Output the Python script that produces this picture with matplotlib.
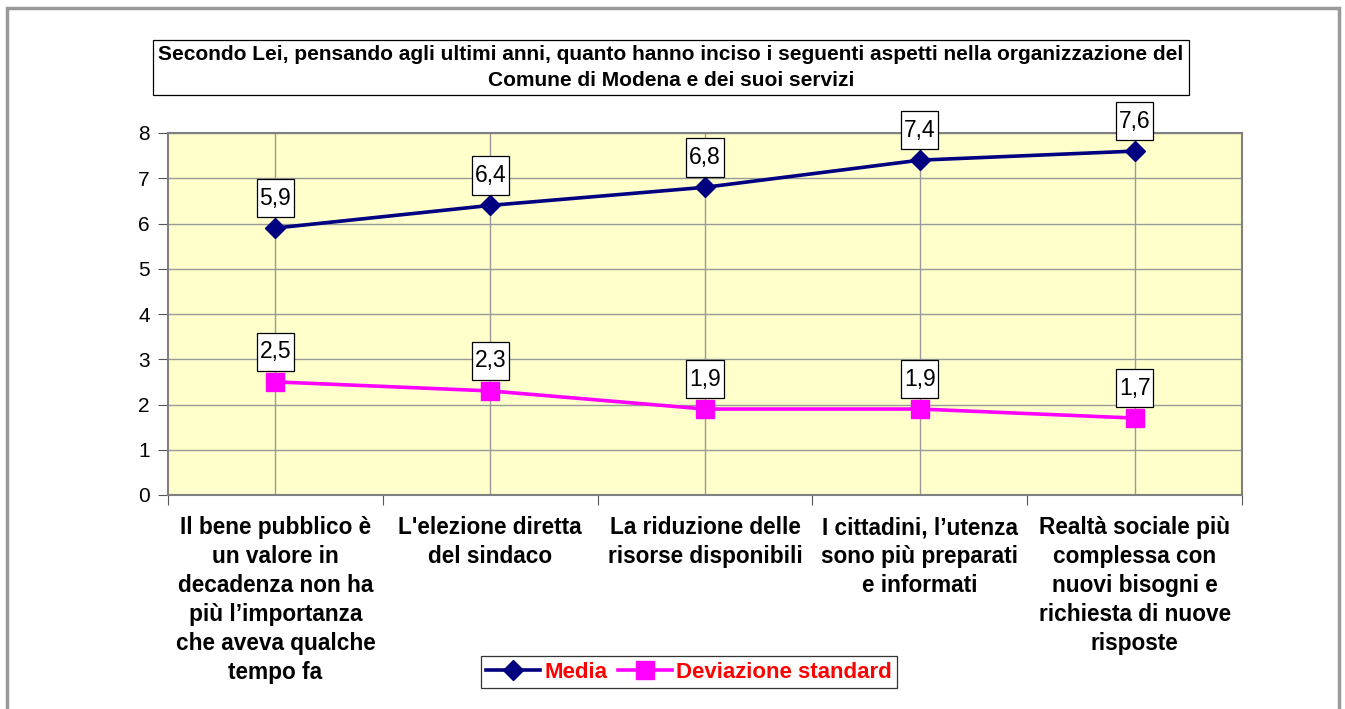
import matplotlib
matplotlib.use('Agg')
import matplotlib.pyplot as plt
from matplotlib.patches import Rectangle
from matplotlib.path import Path

plt.rcParams['font.family'] = ['Liberation Sans', 'DejaVu Sans']

# ── Dati ──
categorie = [
    "Il bene pubblico è\nun valore in\ndecadenza non ha\npiù l’importanza\nche aveva qualche\ntempo fa",
    "L'elezione diretta\ndel sindaco",
    "La riduzione delle\nrisorse disponibili",
    "I cittadini, l’utenza\nsono più preparati\ne informati",
    "Realtà sociale più\ncomplessa con\nnuovi bisogni e\nrichiesta di nuove\nrisposte",
]
media = [5.9, 6.4, 6.8, 7.4, 7.6]
dev_std = [2.5, 2.3, 1.9, 1.9, 1.7]
titolo = ("Secondo Lei, pensando agli ultimi anni, quanto hanno inciso i seguenti aspetti nella organizzazione del\n"
          "Comune di Modena e dei suoi servizi")

W, H = 1345, 709
fig = plt.figure(figsize=(W / 100, H / 100), dpi=100)

# bordo esterno del grafico
fig.patches.append(Rectangle((7 / W, -0.01), (1339 - 7) / W, 1 - 8 / H + 0.01,
                             transform=fig.transFigure, fill=False,
                             edgecolor='#999999', linewidth=2.5))

ax = fig.add_axes([168 / W, 1 - 495 / H, (1242 - 168) / W, (495 - 133) / H])
ax.set_facecolor('#FFFFCC')

x = list(range(len(categorie)))
ax.plot(x, media, color='#000080', linewidth=2.6, marker='D', markersize=10.5,
        label='Media', zorder=5, clip_on=False)
ax.plot(x, dev_std, color='#FF00FF', linewidth=2.6, marker='s', markersize=13,
        label='Deviazione standard', zorder=5, clip_on=False)


# riquadro etichette: più margine in verticale che in orizzontale
def box_etichetta(x0, y0, width, height, mutation_size):
    px, py = 0.12 * mutation_size, 0.34 * mutation_size
    x0, y0 = x0 - px, y0 - py
    x1, y1 = x0 + width + 2 * px, y0 + height + 2 * py
    return Path([(x0, y0), (x1, y0), (x1, y1), (x0, y1), (x0, y0)], closed=True)


for serie in (media, dev_std):
    for xi, v in zip(x, serie):
        ax.annotate(f'{v:.1f}'.replace('.', ','), xy=(xi, v), xytext=(0, 30),
                    textcoords='offset pixels',
                    ha='center', va='center', fontsize=16.5, zorder=6,
                    bbox=dict(boxstyle=box_etichetta, facecolor='white',
                              edgecolor='black', linewidth=0.9))

ax.set_xlim(-0.5, len(categorie) - 0.5)
ax.set_ylim(0, 8)
ax.set_yticks(range(0, 9))
ax.tick_params(axis='y', labelsize=15, length=7, color='#555555', pad=6)

# griglia
ax.set_axisbelow(True)
ax.grid(axis='y', color='#999999', linewidth=1)
for xi in x:
    ax.axvline(xi, color='#999999', linewidth=1, zorder=1)

ax.set_xticks([i + 0.5 for i in range(-1, len(categorie))])
ax.set_xticklabels([])
ax.tick_params(axis='x', length=7, color='#555555')
for xi, lab in zip(x, categorie):
    ax.text(xi, -0.47, lab, transform=ax.transData, ha='center', va='top',
            fontsize=16.3, fontweight='bold', linespacing=1.335)

for s in ax.spines.values():
    s.set_color('#808080')
    s.set_linewidth(1.5)

# titolo in riquadro
fig.text(671 / W, 1 - 67.5 / H, titolo, ha='center', va='center', fontsize=15,
         fontweight='bold', linespacing=1.45,
         bbox=dict(boxstyle='square,pad=0.25', facecolor='white',
                   edgecolor='black', linewidth=0.9))

leg = fig.legend(loc='center', bbox_to_anchor=(689 / W, 1 - 672 / H), ncol=2,
                 frameon=True, fancybox=False, edgecolor='black',
                 prop={'size': 16, 'weight': 'bold'}, handlelength=2.4,
                 handletextpad=0.2, columnspacing=0.5, borderpad=0.25,
                 borderaxespad=0)
leg.get_frame().set_linewidth(0.9)
for t in leg.get_texts():
    t.set_color('red')

fig.savefig('out.png', dpi=100)
